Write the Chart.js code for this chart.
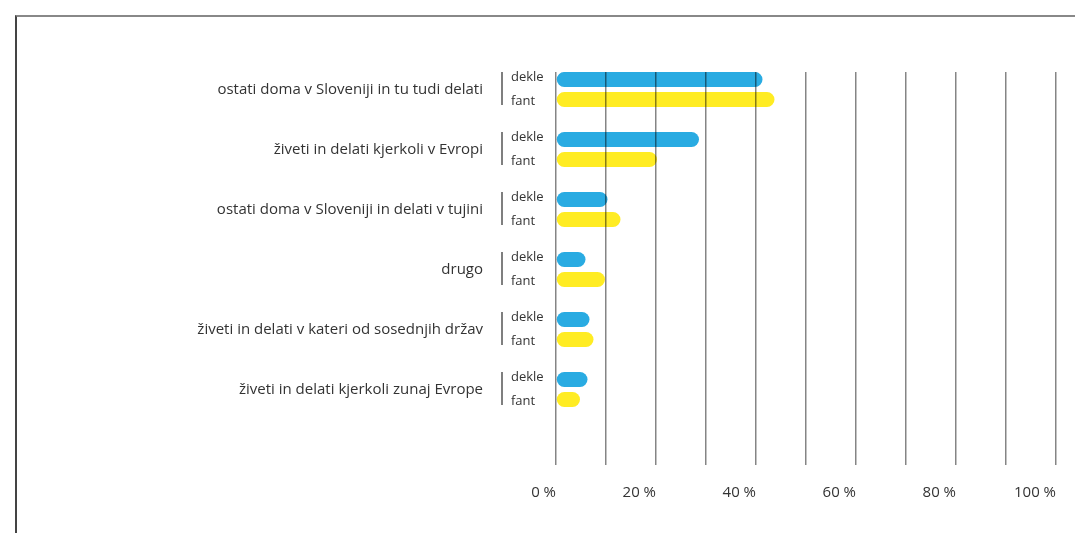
<!DOCTYPE html>
<html>
<head>
	<title>Načrti za prihodnost</title>
	<script src="https://cdn.jsdelivr.net/npm/chart.js"></script>
	<style>
		body{
			margin: 0;
			background: #fff;
		}
		#frame{
			position: absolute;
			left: 15px;
			top: 15px;
			width: 1060px;
			height: 518px;
			border-top: 2px solid #888;
			border-left: 2px solid #444;
			box-sizing: border-box;
		}
		#chart1{
			position: absolute;
			left: 0;
			top: 0;
		}
	</style>
</head>
<body>
	<div id="frame"></div>
	<canvas id="chart1" width="1075" height="533"></canvas>
	<script>
		var categories = [
			'ostati doma v Sloveniji in tu tudi delati',
			'živeti in delati kjerkoli v Evropi',
			'ostati doma v Sloveniji in delati v tujini',
			'drugo',
			'živeti in delati v kateri od sosednjih držav',
			'živeti in delati kjerkoli zunaj Evrope'
		];
		var seriesNames = ['dekle', 'fant'];
		var dekle = [41.3, 28.6, 10.3, 5.9, 6.7, 6.3];
		var fant = [43.7, 20.2, 12.9, 9.8, 7.5, 4.8];

		var textColor = '#333';

		function toPoints(values) {
			return values.map(function(v, i) {
				return {x: v, y: i};
			});
		}

		// draws the small "dekle / fant" labels and the separator next to each group
		var subLabels = {
			id: 'subLabels',
			afterDraw: function(chart) {
				var ctx = chart.ctx;
				var left = chart.chartArea.left;
				var m0 = chart.getDatasetMeta(0);
				var m1 = chart.getDatasetMeta(1);
				ctx.save();
				ctx.font = '13px "Open Sans"';
				ctx.fillStyle = textColor;
				ctx.textAlign = 'left';
				ctx.textBaseline = 'middle';
				ctx.strokeStyle = '#555';
				ctx.lineWidth = 1.5;
				for (var i = 0; i < categories.length; i++) {
					var b0 = m0.data[i];
					var b1 = m1.data[i];
					ctx.beginPath();
					ctx.moveTo(left - 54, b0.y - b0.height / 2);
					ctx.lineTo(left - 54, b1.y + b1.height / 2 - 2);
					ctx.stroke();
					ctx.fillText(seriesNames[0], left - 45, b0.y - 2);
					ctx.fillText(seriesNames[1], left - 45, b1.y + 2);
				}
				ctx.restore();
			}
		};

		var ctx = document.getElementById('chart1').getContext('2d');
		var myChart = new Chart(ctx, {
			type: 'bar',
			data: {
				datasets: [{
					label: seriesNames[0],
					data: toPoints(dekle),
					backgroundColor: '#29abe2',
					borderRadius: 8,
					borderSkipped: false
				}, {
					label: seriesNames[1],
					data: toPoints(fant),
					backgroundColor: '#ffec23',
					borderRadius: 8,
					borderSkipped: false
				}]
			},
			options: {
				responsive: false,
				animation: false,
				indexAxis: 'y',
				categoryPercentage: 0.667,
				barPercentage: 0.75,
				layout: {
					padding: {top: 72, left: 0, right: 19, bottom: 0}
				},
				plugins: {
					legend: {display: false},
					tooltip: {enabled: false}
				},
				scales: {
					x: {
						type: 'linear',
						min: 0,
						max: 100,
						grid: {
							color: 'rgba(0,0,0,0.48)',
							lineWidth: 1.5,
							drawTicks: false,
							z: 1
						},
						border: {display: false},
						ticks: {
							stepSize: 10,
							autoSkip: false,
							maxRotation: 0,
							align: 'end',
							padding: 18.5,
							color: textColor,
							font: {family: 'Open Sans', size: 15},
							callback: function(v) {
								return v % 20 === 0 ? v + ' %' : '';
							}
						},
						afterFit: function(s) {
							s.height = 68;
							s.paddingLeft = 0;
							s.paddingRight = 0;
						}
					},
					y: {
						type: 'linear',
						reverse: true,
						offset: false,
						min: -0.2917,
						max: 6.258,
						grid: {display: false, drawTicks: false, offset: false},
						border: {display: false},
						afterBuildTicks: function(s) {
							s.ticks = categories.map(function(c, i) {
								return {value: i};
							});
						},
						ticks: {
							padding: 73,
							color: textColor,
							font: {family: 'Open Sans', size: 15},
							callback: function(v) {
								return categories[v];
							}
						},
						afterFit: function(s) {
							s.width = 556;
							s.paddingTop = 0;
							s.paddingBottom = 0;
						}
					}
				}
			},
			plugins: [subLabels]
		});
	</script>
</body>
</html>
